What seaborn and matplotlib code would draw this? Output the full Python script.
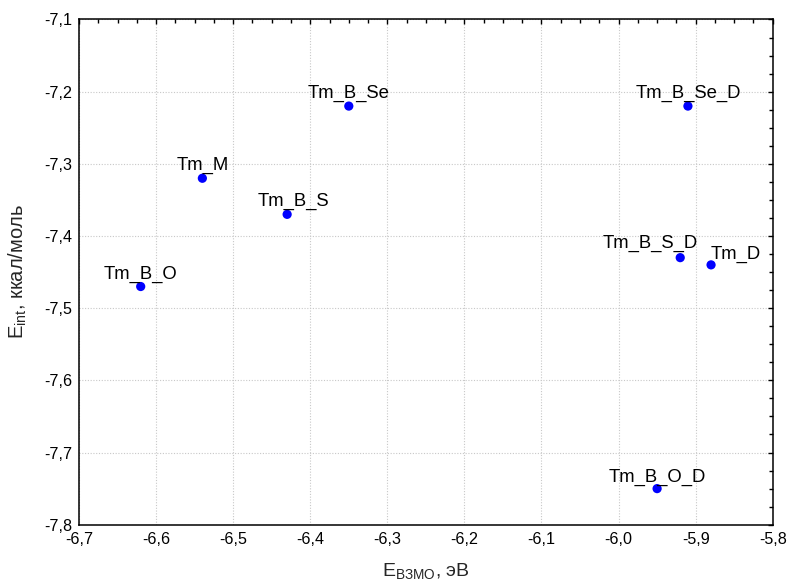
import matplotlib
matplotlib.use("Agg")
import matplotlib.pyplot as plt
from matplotlib.ticker import MultipleLocator, FuncFormatter
import seaborn as sns
import pandas as pd

names = ["Tm_M", "Tm_B_O", "Tm_B_S", "Tm_B_Se", "Tm_B_Se_D", "Tm_B_S_D", "Tm_D", "Tm_B_O_D"]
e_homo = [-6.54, -6.62, -6.43, -6.35, -5.91, -5.92, -5.88, -5.95]
e_int = [-7.32, -7.47, -7.37, -7.22, -7.22, -7.43, -7.44, -7.75]

# label placement styles (offset in points, horizontal alignment)
label_dx = [0, 0, 4.5, 0, 0, 13, 0, 0]
label_dy = [5.8, 5.8, 5.8, 5.8, 5.8, 7, 4.3, 5]
label_ha = ["center", "center", "center", "center", "center", "right", "left", "center"]

df = pd.DataFrame({"x": e_homo, "y": e_int, "name": names})

sns.set_style("white")
plt.rcParams["font.family"] = ["Liberation Sans", "DejaVu Sans"]
plt.rcParams["mathtext.fontset"] = "custom"
plt.rcParams["mathtext.rm"] = "Liberation Sans"
plt.rcParams["mathtext.it"] = "Liberation Sans:italic"

fig = plt.figure(figsize=(7.88, 5.83), dpi=100)
ax = fig.add_axes([0.1003, 0.1, 0.9806 - 0.1003, 0.9666 - 0.1])

sns.scatterplot(data=df, x="x", y="y", ax=ax, color="#0000ff", s=44,
                edgecolor="none", zorder=3)

for n, xv, yv, dx, dy, ha in zip(names, e_homo, e_int, label_dx, label_dy, label_ha):
    ax.annotate(n, (xv, yv), xytext=(dx, dy), textcoords="offset points",
                ha=ha, va="baseline", fontsize=13.3, color="black", zorder=4)

ax.set_xlim(-6.7, -5.8)
ax.set_ylim(-7.8, -7.1)
ax.xaxis.set_major_locator(MultipleLocator(0.1))
ax.xaxis.set_minor_locator(MultipleLocator(0.025))
ax.yaxis.set_major_locator(MultipleLocator(0.1))
ax.yaxis.set_minor_locator(MultipleLocator(0.025))
fmt = FuncFormatter(lambda v, p: f"{v:.1f}".replace(".", ","))
ax.xaxis.set_major_formatter(fmt)
ax.yaxis.set_major_formatter(fmt)

ax.tick_params(which="both", direction="in", top=True, right=True,
               colors="black", labelsize=11.6, width=1.0)
ax.tick_params(which="major", length=3.5, pad=5)
ax.tick_params(which="minor", length=3)

ax.grid(True, which="major", linestyle=(0, (1, 1.5)), color="#c8c8c8", linewidth=0.8)
for sp in ax.spines.values():
    sp.set_color("black")
    sp.set_linewidth(1.1)

ax.set_xlabel(r"$\mathregular{E_{ВЗМО}}$, эВ", fontsize=14, labelpad=10)
ax.set_ylabel(r"$\mathregular{E_{int}}$, ккал/моль", fontsize=14.5, labelpad=11)

fig.savefig("out.png", dpi=100)
